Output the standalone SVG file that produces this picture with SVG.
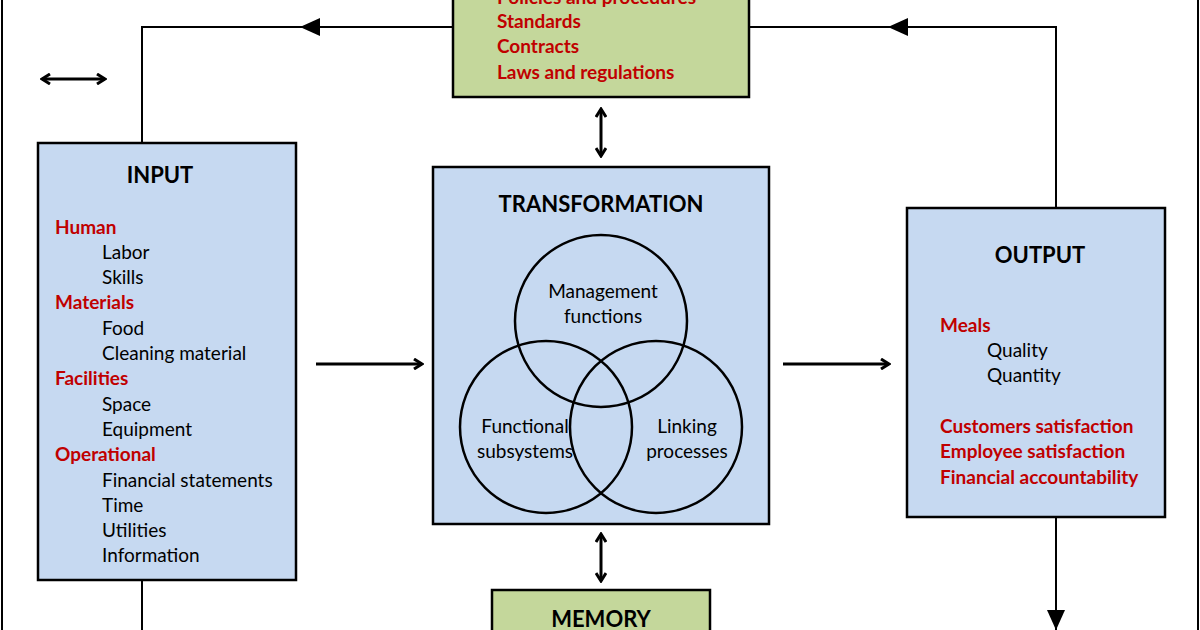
<svg xmlns="http://www.w3.org/2000/svg" width="1200" height="630" viewBox="0 0 1200 630">
<style>
.box{fill:#c6d9f1;stroke:#000;stroke-width:2.5}
.gbox{fill:#c4d79b;stroke:#000;stroke-width:2.5}
.ln{fill:none;stroke:#000;stroke-width:2}
.dl{fill:none;stroke:#000;stroke-width:3}
.c{fill:none;stroke:#000;stroke-width:2.5}
text{font-family:Lato,"Liberation Sans",sans-serif;font-size:19px;fill:#000}
.r{fill:#c00000;font-weight:bold}
.t{font-size:22px;font-weight:bold;text-anchor:middle}
.m{text-anchor:middle}
</style>
<defs>
<marker id="oh" viewBox="0 0 12 12" refX="10" refY="6" markerWidth="12" markerHeight="12" markerUnits="userSpaceOnUse" orient="auto-start-reverse"><path d="M2,1L10,6L2,11" fill="none" stroke="#000" stroke-width="3"/></marker>
</defs>
<rect x="0" y="0" width="1200" height="630" fill="#fff"/>
<g id="connectors">
<line x1="2" y1="0" x2="2" y2="630" class="ln"/>
<line x1="1198" y1="0" x2="1198" y2="630" class="ln"/>
<polyline points="453,27 142,27 142,143" class="ln"/>
<path d="M300,27l20,-9v18z" fill="#000"/>
<polyline points="749,27 1056,27 1056,208" class="ln"/>
<path d="M888,27l20,-9v18z" fill="#000"/>
<line x1="142" y1="580" x2="142" y2="630" class="ln"/>
<line x1="1056" y1="517" x2="1056" y2="630" class="ln"/>
<path d="M1056,630l-9,-20h18z" fill="#000"/>
<line x1="42" y1="79" x2="105" y2="79" class="dl" marker-start="url(#oh)" marker-end="url(#oh)"/>
<line x1="601" y1="109" x2="601" y2="156" class="dl" marker-start="url(#oh)" marker-end="url(#oh)"/>
<line x1="601" y1="534" x2="601" y2="581" class="dl" marker-start="url(#oh)" marker-end="url(#oh)"/>
<line x1="316" y1="364" x2="422" y2="364" class="dl" marker-end="url(#oh)"/>
<line x1="783" y1="364" x2="889" y2="364" class="dl" marker-end="url(#oh)"/>
</g>
<g id="controls">
<rect x="453" y="-10" width="296" height="107" class="gbox"/>
<text x="497" y="4" class="r">Policies and procedures</text>
<text x="497" y="28" class="r">Standards</text>
<text x="497" y="53" class="r">Contracts</text>
<text x="497" y="79" class="r">Laws and regulations</text>
</g>
<g id="input">
<rect x="38" y="143" width="258" height="437" class="box"/>
<text x="160" y="183" class="t">INPUT</text>
<text x="55" y="234" class="r">Human</text>
<text x="102" y="259">Labor</text>
<text x="102" y="284">Skills</text>
<text x="55" y="309" class="r">Materials</text>
<text x="102" y="335">Food</text>
<text x="102" y="360">Cleaning material</text>
<text x="55" y="385" class="r">Facilities</text>
<text x="102" y="411">Space</text>
<text x="102" y="436">Equipment</text>
<text x="55" y="461" class="r">Operational</text>
<text x="102" y="487">Financial statements</text>
<text x="102" y="512">Time</text>
<text x="102" y="537">Utilities</text>
<text x="102" y="562">Information</text>
</g>
<g id="transformation">
<rect x="433" y="167" width="336" height="357" class="box"/>
<text x="601" y="212" class="t">TRANSFORMATION</text>
<circle cx="601" cy="321" r="86" class="c"/>
<circle cx="546" cy="427" r="86" class="c"/>
<circle cx="656" cy="427" r="86" class="c"/>
<text x="603" y="298" class="m">Management</text>
<text x="603" y="323" class="m">functions</text>
<text x="525" y="433" class="m">Functional</text>
<text x="525" y="458" class="m">subsystems</text>
<text x="687" y="433" class="m">Linking</text>
<text x="687" y="458" class="m">processes</text>
</g>
<g id="output">
<rect x="907" y="208" width="258" height="309" class="box"/>
<text x="1040" y="263" class="t">OUTPUT</text>
<text x="940" y="332" class="r">Meals</text>
<text x="987" y="357">Quality</text>
<text x="987" y="382">Quantity</text>
<text x="940" y="433" class="r">Customers satisfaction</text>
<text x="940" y="458" class="r">Employee satisfaction</text>
<text x="940" y="484" class="r">Financial accountability</text>
</g>
<g id="memory">
<rect x="492" y="590" width="218" height="60" class="gbox"/>
<text x="601" y="627" class="t">MEMORY</text>
</g>
</svg>
